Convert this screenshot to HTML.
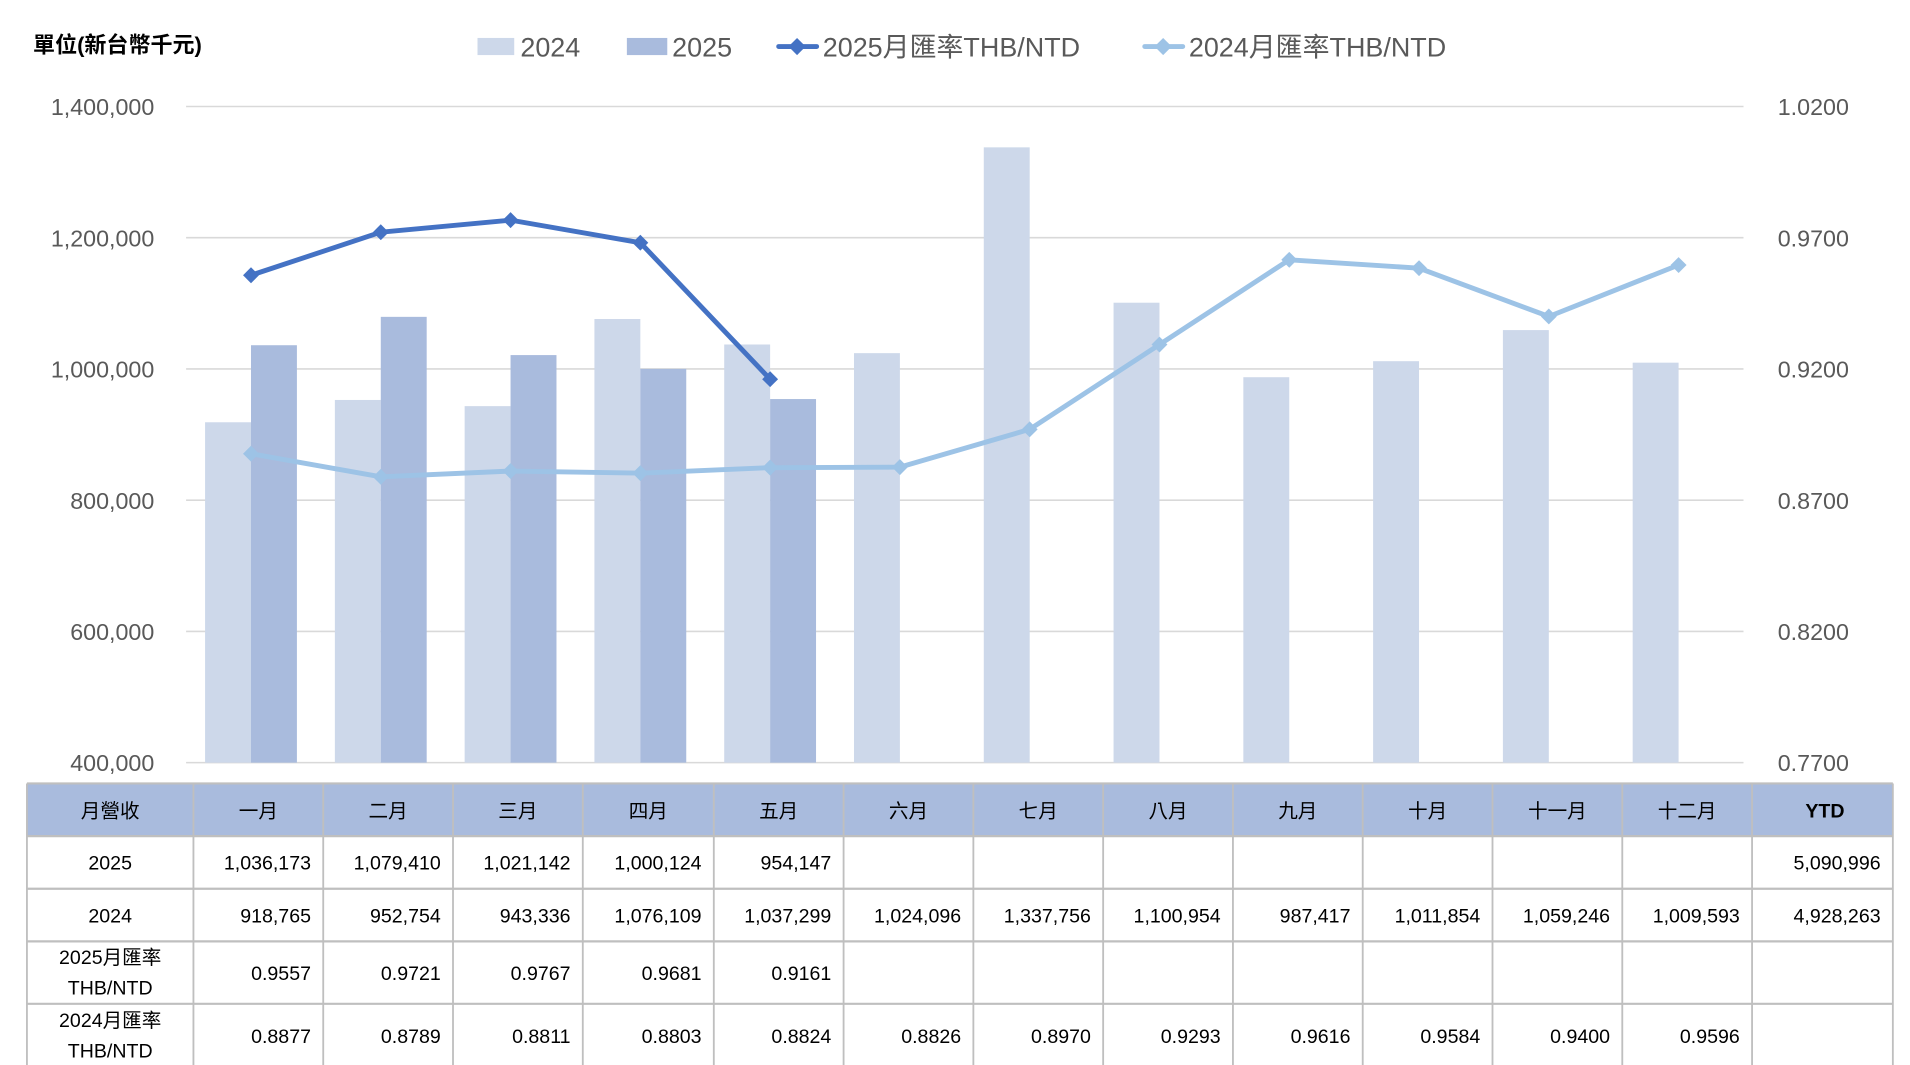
<!DOCTYPE html>
<html><head><meta charset="utf-8"><style>
html,body{margin:0;padding:0;background:#fff;}
svg{display:block;}
text{font-family:"Liberation Sans","Noto Sans CJK TC",sans-serif;}
</style></head><body>
<svg id="chart" width="1910" height="1065" viewBox="0 0 1560 870" preserveAspectRatio="none" xmlns="http://www.w3.org/2000/svg">
<g id="grid"></g><g id="bars"></g><g id="lines"></g><g id="axes"></g><g id="legend"></g><g id="table"></g>
</svg>
<script>
const months=["一月","二月","三月","四月","五月","六月","七月","八月","九月","十月","十一月","十二月"];
const rev2024=[918765,952754,943336,1076109,1037299,1024096,1337756,1100954,987417,1011854,1059246,1009593];
const rev2025=[1036173,1079410,1021142,1000124,954147];
const fx2025=[0.9557,0.9721,0.9767,0.9681,0.9161];
const fx2024=[0.8877,0.8789,0.8811,0.8803,0.8824,0.8826,0.8970,0.9293,0.9616,0.9584,0.9400,0.9596];
const leftTicks=[400000,600000,800000,1000000,1200000,1400000];
const rightTicks=[0.77,0.82,0.87,0.92,0.97,1.02];
const ytd2025="5,090,996", ytd2024="4,928,263";

const NS="http://www.w3.org/2000/svg";
function mk(tag,attrs,parent,txt){const e=document.createElementNS(NS,tag);for(const k in attrs)e.setAttribute(k,attrs[k]);if(txt!==undefined)e.textContent=txt;parent.appendChild(e);return e;}
const X0=152,X1=1424,YT=87,YB=623;
const band=(X1-X0)/12;
const xc=i=>X0+band*(i+0.5);
const yL=v=>YB-(v-400000)/(1400000-400000)*(YB-YT);
const yR=v=>YB-(v-0.77)/(1.02-0.77)*(YB-YT);
const fmt=n=>n.toLocaleString("en-US");
const G=id=>document.getElementById(id);

leftTicks.forEach(t=>{
  const l=mk("line",{x1:X0,x2:X1,y1:yL(t),y2:yL(t),stroke:"#d9d9d9","stroke-width":1.3},G("grid"));
  
  
  const tx=mk("text",{x:126,y:yL(t)+7,"text-anchor":"end","font-size":19,fill:"#595959"},G("axes"),fmt(t));
  
  
});
rightTicks.forEach(t=>{
  const tx=mk("text",{x:1452,y:yR(t)+7,"font-size":19,fill:"#595959"},G("axes"),t.toFixed(4));
  
  
});
const bw=37.5;
rev2024.forEach((v,i)=>{
  const r=mk("rect",{x:xc(i)-bw,y:yL(v),width:bw,height:YB-yL(v),fill:"#cdd8ea"},G("bars"));
  
  
});
rev2025.forEach((v,i)=>{
  const r=mk("rect",{x:xc(i),y:yL(v),width:bw,height:YB-yL(v),fill:"#a9bbdd"},G("bars"));
  
  
});
function drawLine(arr,color,name){
  const pts=arr.map((v,i)=>xc(i)+","+yR(v)).join(" ");
  const p=mk("polyline",{points:pts,fill:"none",stroke:color,"stroke-width":4,"stroke-linejoin":"round"},G("lines"));
  
  
  arr.forEach((v,i)=>{
    const x=xc(i),y=yR(v),s=6.5;
    const m=mk("polygon",{points:`${x},${y-s} ${x+s},${y} ${x},${y+s} ${x-s},${y}`,fill:color},G("lines"));
    
    
  });
}
drawLine(fx2024,"#9dc3e6","fx-2024");
drawLine(fx2025,"#4472c4","fx-2025");

// legend & unit
const lg=G("legend");
let u=mk("text",{x:27,y:43,"font-size":18,fill:"#000","font-weight":"bold"},lg,"單位(新台幣千元)");

let e;
e=mk("rect",{x:390,y:31,width:30,height:14,fill:"#cdd8ea"},lg);
e=mk("text",{x:425,y:46,"font-size":22,fill:"#595959"},lg,"2024");
e=mk("rect",{x:512,y:31,width:33,height:14,fill:"#a9bbdd"},lg);
e=mk("text",{x:549,y:46,"font-size":22,fill:"#595959"},lg,"2025");
e=mk("line",{x1:636,x2:667,y1:38,y2:38,stroke:"#4472c4","stroke-width":4,"stroke-linecap":"round"},lg);
e=mk("polygon",{points:"651,31 658,38 651,45 644,38",fill:"#4472c4"},lg);
e=mk("text",{x:672,y:46,"font-size":22,fill:"#595959"},lg,"2025月匯率THB/NTD");
e=mk("line",{x1:935,x2:966,y1:38,y2:38,stroke:"#9dc3e6","stroke-width":4,"stroke-linecap":"round"},lg);
e=mk("polygon",{points:"950,31 957,38 950,45 943,38",fill:"#9dc3e6"},lg);
e=mk("text",{x:971,y:46,"font-size":22,fill:"#595959"},lg,"2024月匯率THB/NTD");

// table
const tb=G("table");
const cols=[22,158,264,370,476,583,689,795,901,1007,1113,1219,1325,1431,1546];
const rows=[640,683,726,769,820,872];
e=mk("rect",{x:22,y:640,width:1524,height:43,fill:"#a9bbdd"},tb);
const header=["月營收"].concat(months).concat(["YTD"]);
const body=[
 ["2025"].concat(months.map((m,i)=>i<rev2025.length?fmt(rev2025[i]):"")).concat([ytd2025]),
 ["2024"].concat(months.map((m,i)=>fmt(rev2024[i]))).concat([ytd2024]),
 [["2025月匯率","THB/NTD"]].concat(months.map((m,i)=>i<fx2025.length?fx2025[i].toFixed(4):"")).concat([""]),
 [["2024月匯率","THB/NTD"]].concat(months.map((m,i)=>fx2024[i].toFixed(4))).concat([""])
];
header.forEach((h,c)=>{
  const cx=(cols[c]+cols[c+1])/2;
  const t=mk("text",{x:c===13?cx+2:cx,y:668,"text-anchor":"middle","font-size":16,fill:"#000","font-weight":c===13?"bold":"normal"},tb,h);
  
});
body.forEach((row,r)=>{
  const y0=rows[r+1],y1=rows[r+2],ym=(y0+y1)/2;
  row.forEach((v,c)=>{
    if(c===0){
      if(Array.isArray(v)){
        let t=mk("text",{x:90,y:ym-7,"text-anchor":"middle","font-size":16,fill:"#000"},tb,v[0]);
        
        t=mk("text",{x:90,y:ym+18,"text-anchor":"middle","font-size":16,fill:"#000"},tb,v[1]);
        
      } else {
        const t=mk("text",{x:90,y:ym+6,"text-anchor":"middle","font-size":16,fill:"#000"},tb,v);
        
      }
    } else if(v!==""){
      const t=mk("text",{x:cols[c+1]-10,y:ym+6,"text-anchor":"end","font-size":16,fill:"#000"},tb,v);
      
    }
  });
});
rows.forEach(y=>{const l=mk("line",{x1:22,x2:1546,y1:y,y2:y,stroke:"#bfbfbf","stroke-width":1.8},tb);});
cols.forEach(x=>{const l=mk("line",{x1:x,x2:x,y1:640,y2:872,stroke:"#bfbfbf","stroke-width":1.5},tb);});
</script>
</body></html>
